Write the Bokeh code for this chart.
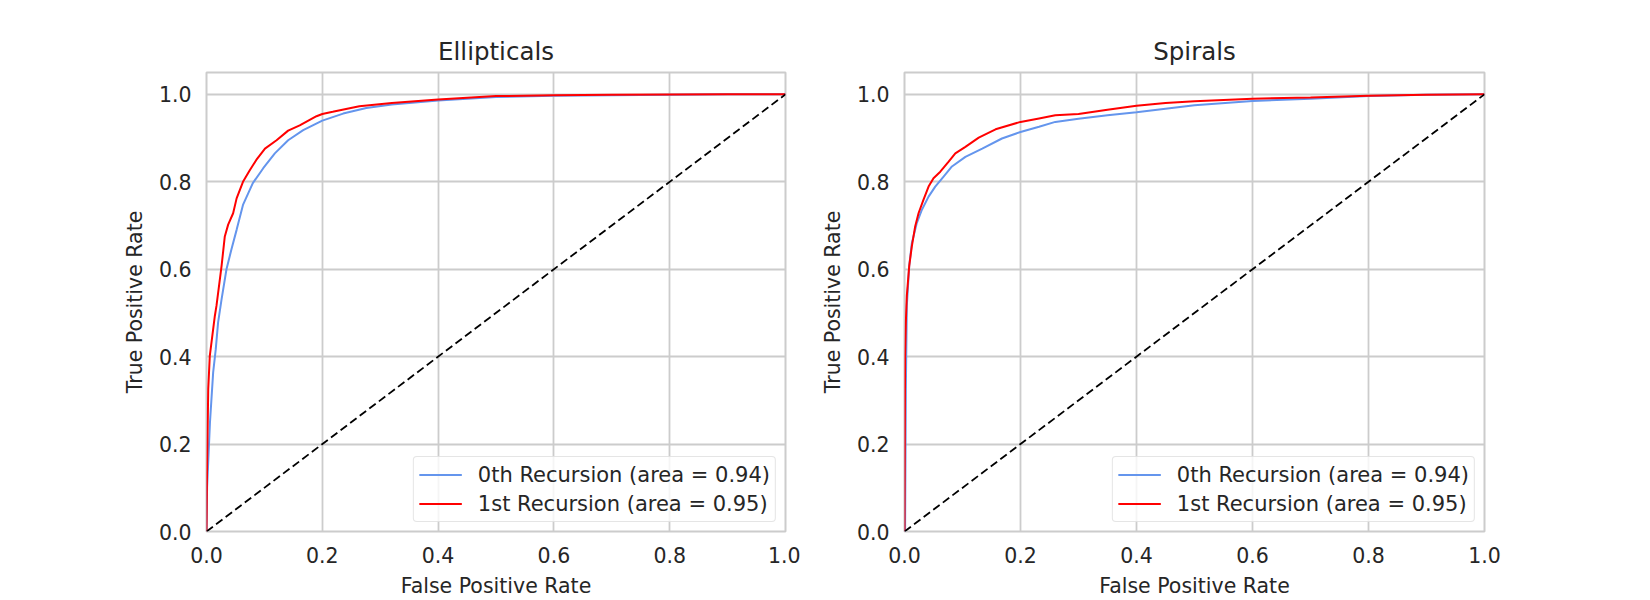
from bokeh.plotting import figure
from bokeh.layouts import row
from bokeh.models import Range1d, FixedTicker, PrintfTickFormatter, Legend, LegendItem
from bokeh.embed import file_html
from bokeh.resources import INLINE

# ROC curves: false positive rate / true positive rate
ell_fpr_0 = [0, 0.001, 0.006, 0.0115, 0.016, 0.02, 0.026, 0.0345, 0.043, 0.052, 0.063, 0.08,
             0.098, 0.118, 0.141, 0.167, 0.2, 0.236, 0.276, 0.32, 0.4, 0.5, 0.6, 0.7, 0.8, 0.9, 1.0]
ell_tpr_0 = [0, 0.10, 0.25, 0.364, 0.417, 0.478, 0.531, 0.60, 0.645, 0.69, 0.747, 0.797,
             0.831, 0.865, 0.895, 0.918, 0.94, 0.956, 0.969, 0.977, 0.986, 0.994, 0.997, 0.998, 0.999, 1.0, 1.0]

ell_fpr_1 = [0, 0.001, 0.003, 0.0057, 0.0144, 0.0172, 0.026, 0.0316, 0.0374, 0.046, 0.052, 0.063,
             0.075, 0.086, 0.101, 0.121, 0.141, 0.161, 0.19, 0.2, 0.218, 0.264, 0.32, 0.4, 0.5,
             0.6, 0.7, 0.8, 0.9, 1.0]
ell_tpr_1 = [0, 0.15, 0.326, 0.402, 0.493, 0.516, 0.607, 0.675, 0.702, 0.728, 0.762, 0.80,
             0.827, 0.85, 0.876, 0.895, 0.917, 0.929, 0.95, 0.955, 0.96, 0.973, 0.98, 0.988, 0.996,
             0.998, 0.999, 0.9995, 1.0, 1.0]

spi_fpr_0 = [0, 0.001, 0.0023, 0.004, 0.0081, 0.0127, 0.0213, 0.03, 0.0415, 0.053, 0.0674, 0.0818,
             0.105, 0.134, 0.168, 0.2, 0.232, 0.26, 0.3, 0.35, 0.4, 0.45, 0.5, 0.6, 0.7, 0.8, 0.9, 1.0]
spi_tpr_0 = [0, 0, 0.326, 0.516, 0.607, 0.66, 0.706, 0.736, 0.766, 0.789, 0.812, 0.835,
             0.857, 0.876, 0.899, 0.914, 0.926, 0.937, 0.944, 0.952, 0.959, 0.967, 0.975, 0.985, 0.99,
             0.996, 0.999, 1.0]

spi_fpr_1 = [0, 0.001, 0.0023, 0.004, 0.0081, 0.0127, 0.0184, 0.0242, 0.0328, 0.0415, 0.05, 0.0617,
             0.0761, 0.0876, 0.105, 0.128, 0.157, 0.2, 0.232, 0.26, 0.3, 0.35, 0.4, 0.45, 0.5,
             0.6, 0.7, 0.8, 0.9, 1.0]
spi_tpr_1 = [0, 0.40, 0.478, 0.539, 0.607, 0.653, 0.698, 0.728, 0.759, 0.789, 0.808, 0.823,
             0.846, 0.865, 0.88, 0.901, 0.92, 0.937, 0.945, 0.952, 0.955, 0.965, 0.974, 0.98, 0.984,
             0.99, 0.993, 0.997, 0.999, 1.0]

chance = [0.0, 1.0]
ticks = [0.0, 0.2, 0.4, 0.6, 0.8, 1.0]
titles = ["Ellipticals", "Spirals"]
labels = ["0th Recursion (area = 0.94)", "1st Recursion (area = 0.95)"]
x_label = "False Positive Rate"
y_label = "True Positive Rate"

FONT = "DejaVu Sans"
TEXT = "#262626"
GRID = "#cccccc"


def roc_panel(title, fpr0, tpr0, fpr1, tpr1, width, left, right):
    p = figure(width=width, height=600, output_backend="svg", toolbar_location=None,
               x_range=Range1d(0, 1), y_range=Range1d(0, 1.05),
               min_border_left=left, min_border_right=right,
               min_border_top=72, min_border_bottom=67)
    p.background_fill_color = "white"
    p.border_fill_color = "white"
    p.outline_line_color = GRID
    p.outline_line_width = 2

    p.title.text = title
    p.title.align = "center"
    p.title.text_font = FONT
    p.title.text_font_size = "24.5px"
    p.title.text_font_style = "normal"
    p.title.text_color = TEXT
    p.title.standoff = 14

    for ax in (p.xaxis[0], p.yaxis[0]):
        ax.ticker = FixedTicker(ticks=ticks)
        ax.formatter = PrintfTickFormatter(format="%.1f")
        ax.axis_line_color = None
        ax.major_tick_line_color = None
        ax.minor_tick_line_color = None
        ax.major_tick_out = 0
        ax.major_label_standoff = 15
        ax.major_label_text_font = FONT
        ax.major_label_text_font_size = "20.5px"
        ax.major_label_text_color = TEXT
        ax.axis_label_text_font = FONT
        ax.axis_label_text_font_size = "20.5px"
        ax.axis_label_text_font_style = "normal"
        ax.axis_label_text_color = TEXT
    p.xaxis.axis_label = x_label
    p.yaxis.axis_label = y_label
    p.xaxis.axis_label_standoff = 8
    p.yaxis.axis_label_standoff = 9

    p.xgrid.ticker = FixedTicker(ticks=ticks)
    p.ygrid.ticker = FixedTicker(ticks=ticks)
    p.grid.grid_line_color = GRID
    p.grid.grid_line_width = 1.8

    r0 = p.line(fpr0, tpr0, line_color="#6495ED", line_width=2)
    r1 = p.line(fpr1, tpr1, line_color="#ff0000", line_width=2)
    p.line(chance, chance, line_color="black", line_width=1.8, line_dash="8 4")

    legend = Legend(items=[LegendItem(label=labels[0], renderers=[r0]),
                           LegendItem(label=labels[1], renderers=[r1])],
                    location="bottom_right", margin=9, padding=5, spacing=4,
                    glyph_width=43, glyph_height=25, label_height=25, label_standoff=16,
                    label_text_font=FONT, label_text_font_size="21px", label_text_color=TEXT,
                    border_line_color=GRID, border_line_width=1.5, border_radius=4,
                    background_fill_color="white", background_fill_alpha=0.8)
    p.add_layout(legend)
    return p


p1 = roc_panel(titles[0], ell_fpr_0, ell_tpr_0, ell_fpr_1, ell_tpr_1, 800, 206, 15)
p2 = roc_panel(titles[1], spi_fpr_0, spi_tpr_0, spi_fpr_1, spi_tpr_1, 850, 104, 166)

layout = row(p1, p2)
open("out.html", "w").write(file_html(layout, INLINE))
